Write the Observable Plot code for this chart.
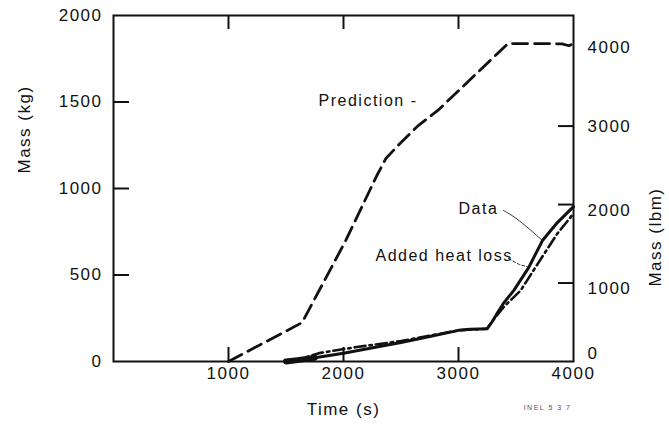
<!DOCTYPE html>
<html><head><meta charset="utf-8">
<script src="https://cdn.jsdelivr.net/npm/d3@7"></script>
<script src="https://cdn.jsdelivr.net/npm/@observablehq/plot@0.6"></script>
<style>
body{margin:0;background:#fff;}
svg{font-family:"Liberation Sans",Arial,sans-serif;}
</style></head><body><div id="chart"></div>
<script>
// Time (s) and mass (kg)
const predT = [1000, 1640, 2020, 2290, 2370, 2500, 2650, 2820, 3430, 3700, 3900, 3960, 4000];
const predM = [0, 225, 700, 1075, 1175, 1266, 1364, 1451, 1838, 1838, 1836, 1825, 1838];
const dataT = [1500, 1600, 1750, 2000, 2300, 2500, 2750, 3000, 3100, 3250, 3300, 3340, 3390, 3480, 3610, 3730, 3860, 4000];
const dataM = [0, 8, 22, 48, 85, 110, 145, 180, 186, 190, 237, 283, 335, 410, 543, 699, 803, 895];
const heatT = [1550, 1800, 2100, 2500, 3000, 3250, 3300, 3400, 3540, 3690, 3860, 4000];
const heatM = [0, 50, 82, 118, 180, 190, 240, 320, 410, 566, 740, 855];

const xTickLabels = [1000, 2000, 3000, 4000];
const xTickMarks = [1000, 2000, 3000];
const yTickLabels = [0, 500, 1000, 1500, 2000];
const yTickMarks = [500, 1000, 1500];
const lbmTickLabels = [0, 1000, 2000, 3000, 4000];
const lbmTickMarks = [1000, 2000, 3000];
const KG_PER_LBM = 0.45359237;

const pred = predT.map((t, i) => ({t, m: predM[i]}));
const meas = dataT.map((t, i) => ({t, m: dataM[i]}));
const heat = heatT.map((t, i) => ({t, m: heatM[i]}));

// annotation leaders (data units)
const dataLeader = [{t: 3391, m: 873}, {t: 3513, m: 827}, {t: 3730, m: 699}];
const heatLeader = [{t: 3435, m: 595}, {t: 3530, m: 560}, {t: 3600, m: 548}];

const W = 669, H = 428, ML = 113, MR = 96, MT = 15, MB = 67;
const FW = W - ML - MR, FH = H - MT - MB;
const YMAX = 2000;
const tickLenY = 14 * YMAX / FH; // 14px expressed in y units

const font = {fontSize: 17, fill: "#111"};
const chart = Plot.plot({
  width: W, height: H,
  marginLeft: ML, marginRight: MR, marginTop: MT, marginBottom: MB,
  x: {domain: [0, 4000], axis: null},
  y: {domain: [0, YMAX], axis: null},
  style: {fontFamily: "Liberation Sans, Arial, sans-serif", letterSpacing: "1.5px", background: "#fff"},
  marks: [
    // tick marks (inward)
    Plot.ruleX(xTickMarks, {x: d => d, y1: 0, y2: tickLenY, stroke: "#111", strokeWidth: 2}),
    Plot.ruleX(xTickMarks, {x: d => d, y1: YMAX - tickLenY, y2: YMAX, stroke: "#111", strokeWidth: 2}),
    Plot.ruleY(yTickMarks, {y: d => d, x1: 0, x2: 4000, insetRight: FW - 16, stroke: "#111", strokeWidth: 2}),
    Plot.ruleY(lbmTickMarks, {y: d => d * KG_PER_LBM, x1: 0, x2: 4000, insetLeft: FW - 15, stroke: "#111", strokeWidth: 2}),
    // tick labels
    Plot.text(xTickLabels, {x: d => d, y: 0, text: d => String(d), dy: 5, lineAnchor: "top", ...font}),
    Plot.text(yTickLabels, {x: 0, y: d => d, text: d => String(d), dx: -11, textAnchor: "end", ...font}),
    Plot.text(lbmTickLabels.filter(d => d >= 3000), {x: 4000, y: d => d * KG_PER_LBM, text: d => String(d), dx: 14, textAnchor: "start", ...font}),
    Plot.text(lbmTickLabels.filter(d => d > 0 && d < 3000), {x: 4000, y: d => d * KG_PER_LBM, text: d => String(d), dx: 14, dy: 6, textAnchor: "start", ...font}),
    Plot.text(lbmTickLabels.filter(d => d === 0), {x: 4000, y: d => d * KG_PER_LBM, text: d => String(d), dx: 14, dy: -8, textAnchor: "start", ...font}),
    // axis titles
    Plot.text(["Time (s)"], {frameAnchor: "bottom", dy: 53, text: d => d, ...font}),
    Plot.text(["Mass (kg)"], {frameAnchor: "left", dx: -89, dy: -15, rotate: -90, text: d => d, ...font}),
    Plot.text(["Mass (lbm)"], {frameAnchor: "right", dx: 82, dy: -1, rotate: -90, text: d => d, ...font}),
    // curves
    Plot.line(pred, {x: "t", y: "m", stroke: "#111", strokeWidth: 2.8, strokeDasharray: "15,7"}),
    Plot.line(heat, {x: "t", y: "m", stroke: "#111", strokeWidth: 2.6, strokeDasharray: "11,4,2.5,4"}),
    Plot.line(meas, {x: "t", y: "m", stroke: "#111", strokeWidth: 3}),
    Plot.line(meas.filter(d => d.t <= 1750), {x: "t", y: "m", stroke: "#111", strokeWidth: 6}),
    // leaders
    Plot.line(dataLeader, {x: "t", y: "m", stroke: "#333", strokeWidth: 1, curve: "basis"}),
    Plot.line(heatLeader, {x: "t", y: "m", stroke: "#333", strokeWidth: 1, strokeDasharray: "3,2"}),
    // annotations
    Plot.text(["Prediction -"], {x: 1783, y: 1509, text: d => d, textAnchor: "start", fontSize: 16, letterSpacing: "1px", fill: "#111"}),
    Plot.text(["Data"], {x: 3000, y: 884, text: d => d, textAnchor: "start", fontSize: 16, letterSpacing: "1px", fill: "#111"}),
    Plot.text(["Added heat loss"], {x: 2278, y: 613, text: d => d, textAnchor: "start", fontSize: 16, letterSpacing: "1px", fill: "#111"}),
    Plot.text(["INEL 5 3 7"], {frameAnchor: "bottom-right", dx: -2, dy: 48, text: d => d, fontSize: 7, textAnchor: "end", fill: "#555"}),
    Plot.frame({stroke: "#111", strokeWidth: 2})
  ]
});
document.getElementById("chart").appendChild(chart);
</script></body></html>
